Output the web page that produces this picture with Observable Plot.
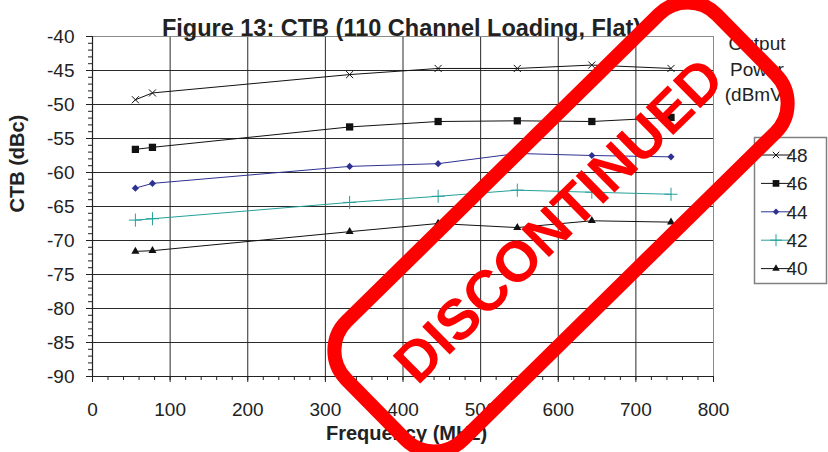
<!DOCTYPE html>
<html>
<head>
<meta charset="utf-8">
<script src="https://cdn.jsdelivr.net/npm/d3@7"></script>
<script src="https://cdn.jsdelivr.net/npm/@observablehq/plot@0.6"></script>
<style>
  body { margin: 0; background: #fff; }
  #chart { position: relative; width: 828px; height: 452px; }
</style>
</head>
<body>
<div id="chart"></div>
<script>
// ---- Data ----
const frequencies = [55.25, 77.25, 331.25, 445.25, 547.25, 643.25, 745.25];
const ctb48 = [-49.3, -48.3, -45.6, -44.7, -44.7, -44.2, -44.7];
const ctb46 = [-56.6, -56.3, -53.3, -52.5, -52.4, -52.5, -51.9];
const ctb44 = [-62.3, -61.6, -59.1, -58.7, -57.2, -57.5, -57.7];
const ctb42 = [-67.0, -66.8, -64.4, -63.5, -62.6, -62.9, -63.2];
const ctb40 = [-71.6, -71.5, -68.7, -67.5, -68.1, -67.1, -67.3];
const seriesNames = ["48", "46", "44", "42", "40"];
const seriesValues = [ctb48, ctb46, ctb44, ctb42, ctb40];
const seriesColors = ["#111111", "#111111", "#2e3192", "#23a19a", "#111111"];
const seriesSymbols = ["times", "square", "diamond2", "plus", "triangle"];
const seriesRadius = [3.3, 4.1, 3.2, 4.3, 3.0];
const seriesFilled = [false, true, true, false, true];
const yTicks = [-40, -45, -50, -55, -60, -65, -70, -75, -80, -85, -90];
const xTicks = [0, 100, 200, 300, 400, 500, 600, 700, 800];
const yMinorTicks = d3.range(-90, -39, 1);
const xMinorTicks = d3.range(0, 801, 20);
const titleText = "Figure 13: CTB (110 Channel Loading, Flat)";
const xLabel = "Frequency (MHz)";
const yLabel = "CTB (dBc)";
const legendTitle = ["Output", "Power", "(dBmV)"];
const stampText = "DISCONTINUED";

// ---- Build table ----
const table = [];
seriesNames.forEach((s, i) => {
  seriesValues[i].forEach((v, j) => table.push({series: s, freq: frequencies[j], ctb: v}));
});

const FONT = "'Liberation Sans', Arial, Helvetica, sans-serif";
const INK = "#222";

const dotMarks = seriesNames.map((s, i) => Plot.dot(table.filter(d => d.series === s), {
  x: "freq", y: "ctb",
  symbol: () => seriesSymbols[i],
  r: seriesRadius[i],
  fill: seriesFilled[i] ? seriesColors[i] : "none",
  stroke: seriesFilled[i] ? "none" : seriesColors[i],
  strokeWidth: 1
}));

const plot = Plot.plot({
  width: 828,
  height: 452,
  marginLeft: 92,
  marginRight: 115,
  marginTop: 36,
  marginBottom: 76,
  x: {domain: [0, 800], label: null},
  y: {domain: [-90, -40], label: null},
  symbol: {domain: seriesSymbols, range: seriesSymbols},
  style: {fontFamily: FONT, fontSize: "19px", color: INK, background: "#fff", overflow: "visible"},
  marks: [
    Plot.gridY(yTicks, {stroke: "#2a2a2a", strokeOpacity: 1, strokeWidth: 1}),
    Plot.gridX(xTicks, {stroke: "#2a2a2a", strokeOpacity: 1, strokeWidth: 1}),
    Plot.frame({stroke: "#8a8a8a", strokeWidth: 1}),
    Plot.ruleX([0], {stroke: INK, strokeWidth: 1.2}),
    Plot.ruleY([-90], {stroke: INK, strokeWidth: 1.2}),
    Plot.axisY(yMinorTicks, {tickSize: 4, tickFormat: () => "", label: null, stroke: INK}),
    Plot.axisX(xMinorTicks, {tickSize: 4, tickFormat: () => "", label: null, stroke: INK}),
    Plot.axisY(yTicks, {tickSize: 6, tickPadding: 12, tickFormat: d => String(d), label: null, fontSize: 19, stroke: INK, fill: INK}),
    Plot.axisX(xTicks, {tickSize: 6, tickPadding: 20, tickFormat: d => String(d), label: null, fontSize: 19, stroke: INK, fill: INK}),
    Plot.line(table, {x: "freq", y: "ctb", z: "series", stroke: d => seriesColors[seriesNames.indexOf(d.series)], strokeWidth: 1}),
    ...dotMarks,
    Plot.text([titleText], {text: d => d, frameAnchor: "top", dy: -17, dx: -1.5, fontSize: 23.5, fontWeight: "bold", fill: INK}),
    Plot.text([xLabel], {text: d => d, frameAnchor: "bottom", dy: 63, dx: 3.5, fontSize: 20, fontWeight: "bold", fill: INK}),
    Plot.text([yLabel], {text: d => d, frameAnchor: "left", dx: -75, dy: 6, rotate: -90, fontSize: 20, fontWeight: "bold", fill: INK})
  ]
});

document.getElementById("chart").appendChild(plot);

// ---- Legend ----
const svg = d3.select(plot);
const leg = svg.append("g").attr("font-family", FONT).attr("font-size", 19).attr("fill", INK);
legendTitle.forEach((t, i) => {
  leg.append("text").attr("x", 757).attr("y", 50 + i * 25.5).text(t);
});
leg.append("rect").attr("x", 754.5).attr("y", 137.5).attr("width", 72).attr("height", 146)
  .attr("fill", "#fff").attr("stroke", "#808080").attr("stroke-width", 1.5);
const d3Sym = {times: d3.symbolTimes, square: d3.symbolSquare, diamond2: d3.symbolDiamond2, plus: d3.symbolPlus, triangle: d3.symbolTriangle};
seriesNames.forEach((s, i) => {
  const cy = 155 + i * 28.4;
  leg.append("line").attr("x1", 761).attr("x2", 792).attr("y1", cy).attr("y2", cy)
    .attr("stroke", seriesColors[i]).attr("stroke-width", 1);
  leg.append("path")
    .attr("transform", `translate(776,${cy})`)
    .attr("d", d3.symbol(d3Sym[seriesSymbols[i]], Math.PI * seriesRadius[i] * seriesRadius[i] * 0.85)())
    .attr("fill", seriesFilled[i] ? seriesColors[i] : "none")
    .attr("stroke", seriesFilled[i] ? "none" : seriesColors[i]);
  leg.append("text").attr("x", 797).attr("y", cy + 6.8).text(s);
});

// ---- Stamp overlay ----
const stamp = svg.append("g").attr("transform", "translate(561,227) rotate(-44.5)");
stamp.append("rect").attr("x", -260).attr("y", -83).attr("width", 520).attr("height", 166)
  .attr("rx", 41).attr("fill", "none").attr("stroke", "#ff0000").attr("stroke-width", 14);
stamp.append("text").attr("x", 3).attr("y", 13).attr("text-anchor", "middle")
  .attr("font-family", FONT).attr("font-weight", "bold").attr("font-size", 57)
  .attr("fill", "#ff0000").text(stampText);
</script>
</body>
</html>
